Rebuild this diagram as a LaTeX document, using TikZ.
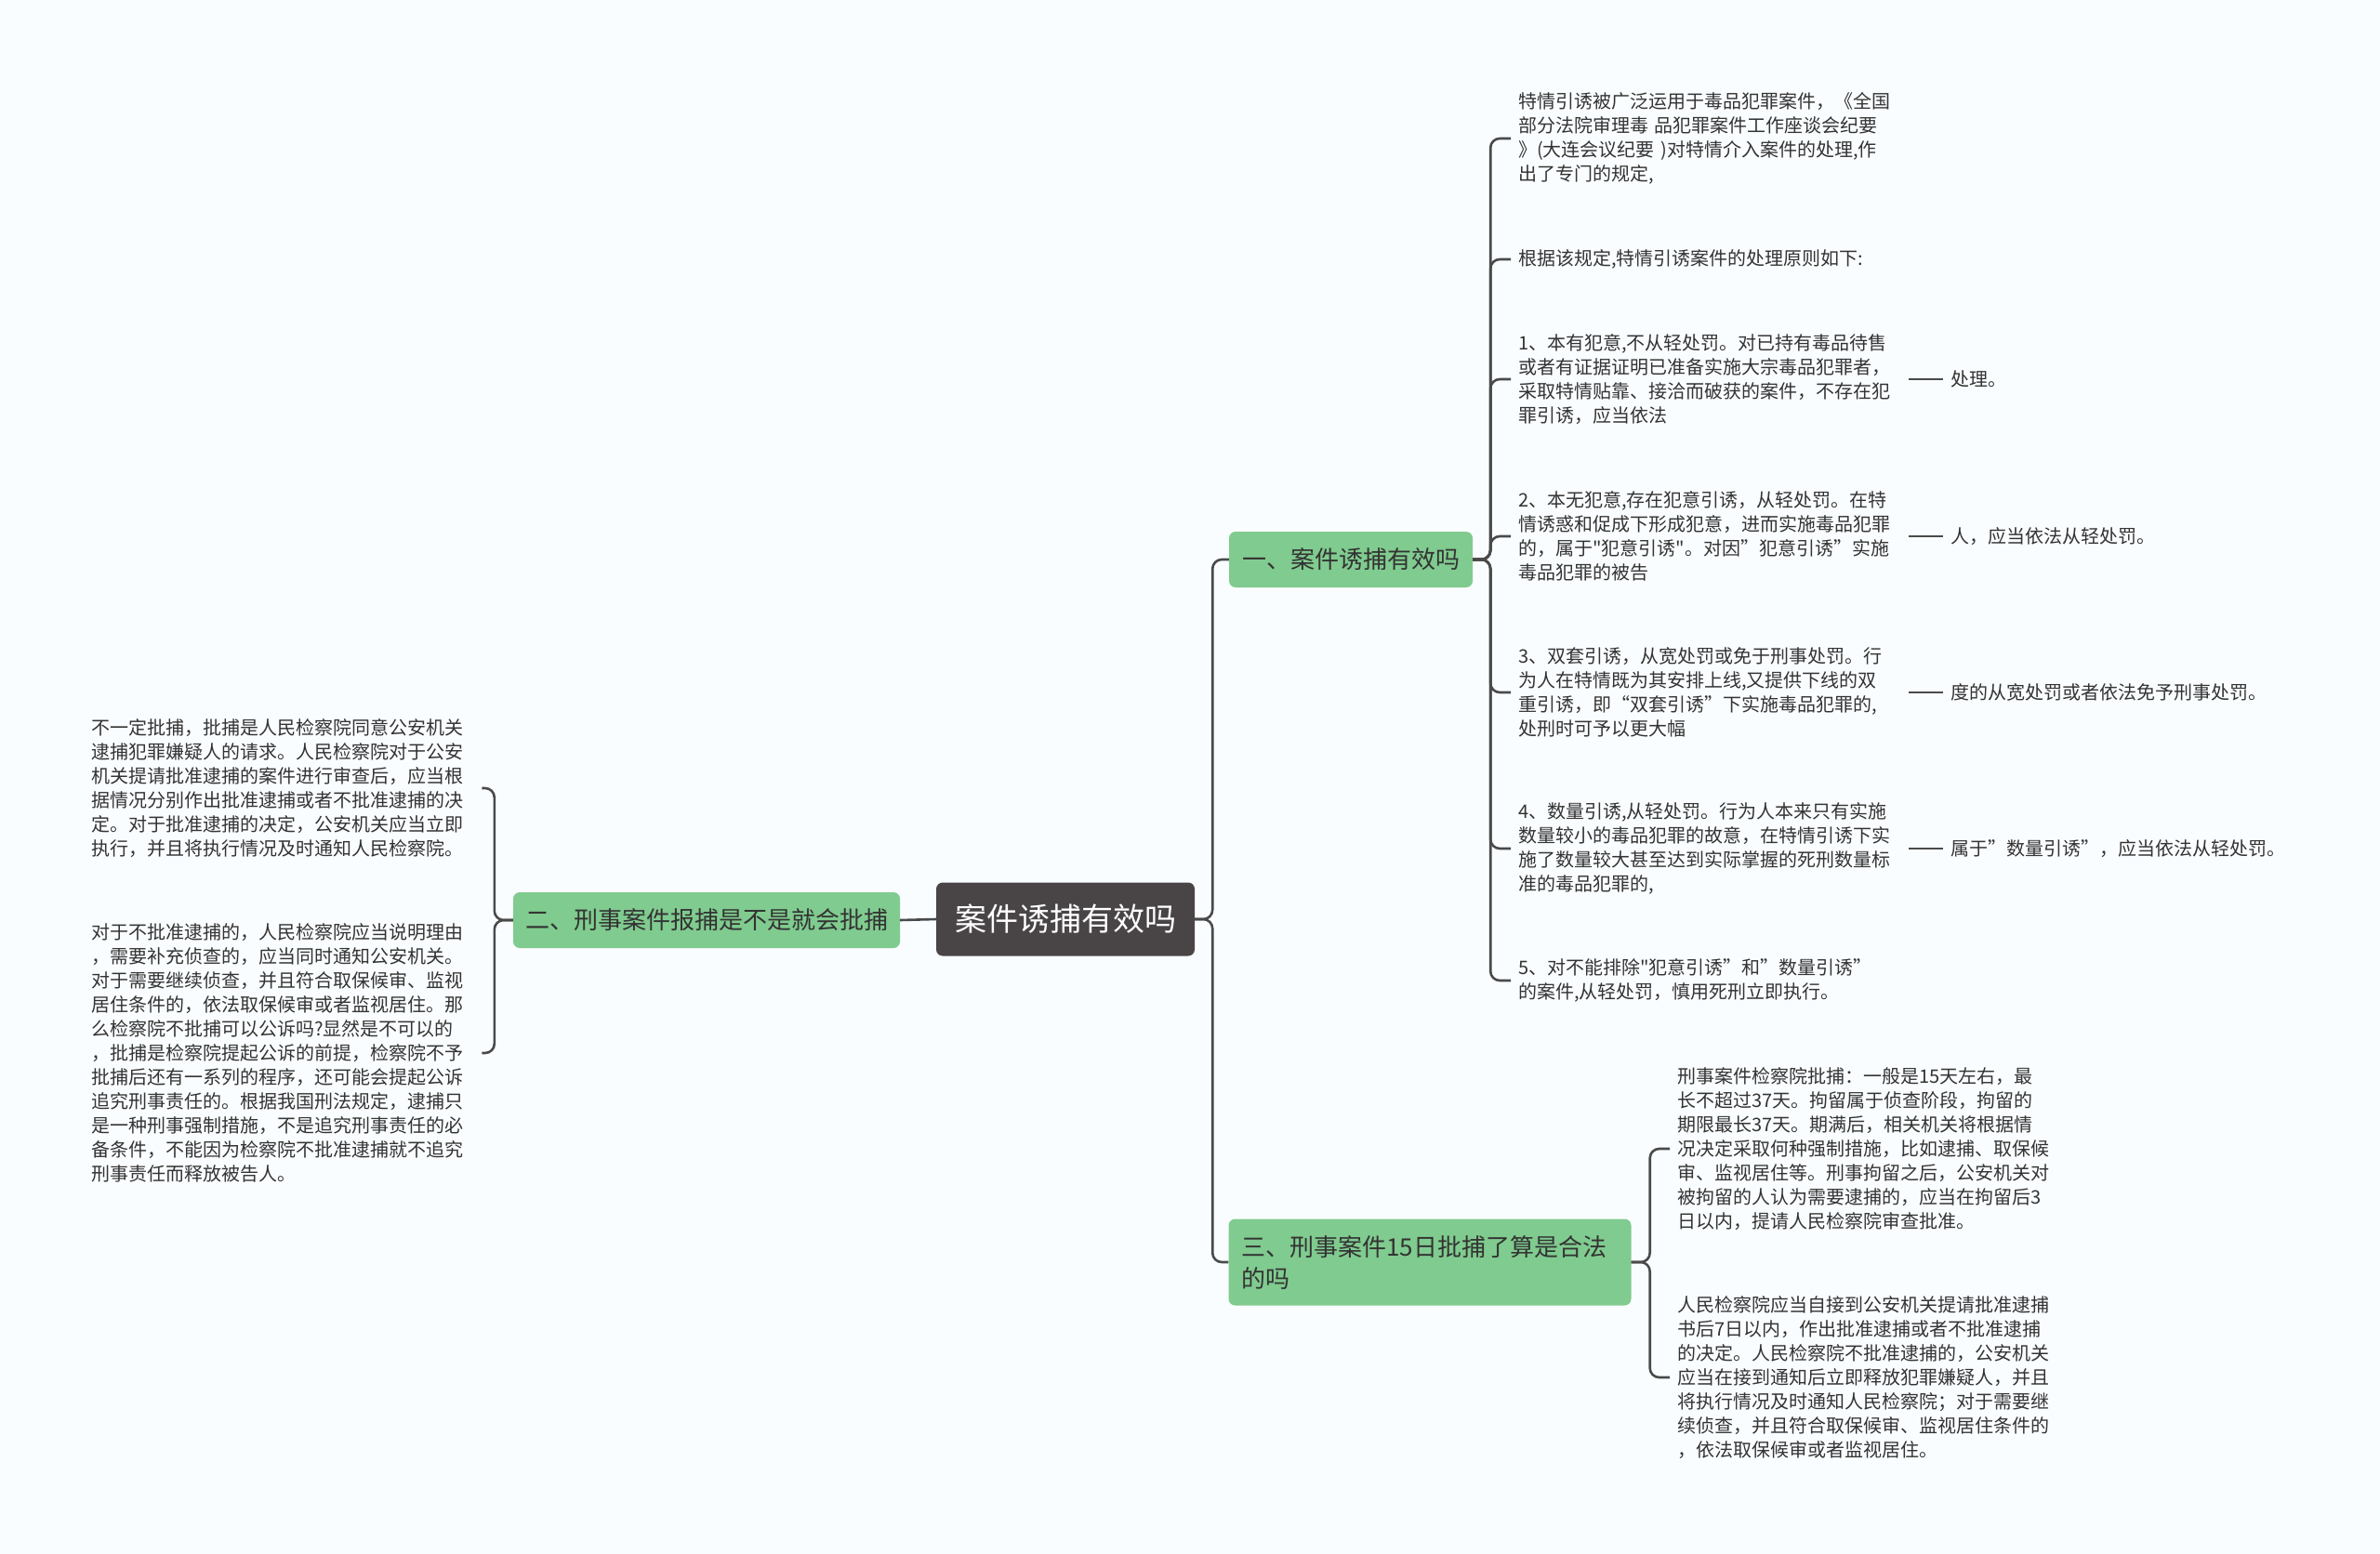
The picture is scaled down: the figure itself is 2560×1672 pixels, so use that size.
\documentclass[tikz,border=0pt]{standalone}
\usepackage{fontspec}
\setmainfont{Noto Sans CJK SC}[Ligatures=TeXOff]
\usetikzlibrary{positioning,calc}
\definecolor{bgpaper}{RGB}{250,253,255}
\definecolor{branchgreen}{RGB}{128,203,143}
\definecolor{rootgray}{RGB}{73,69,70}
\definecolor{linegray}{RGB}{74,74,74}
\definecolor{txtgray}{RGB}{51,51,51}

\begin{document}
\begin{tikzpicture}[x=1pt,y=-1pt,
    conn/.style={draw=linegray, line width=2.6pt, rounded corners=10pt},
    rootbox/.style={fill=rootgray, text=white, rounded corners=7pt, font=\fontsize{34}{40}\selectfont, minimum width=278pt, minimum height=79pt},
    branch/.style={fill=branchgreen, text=txtgray, rounded corners=7pt, font=\fontsize{26}{34}\selectfont, minimum height=60pt, inner xsep=12pt},
    detail/.style={text=txtgray, font=\fontsize{20}{26}\selectfont, align=left, text width=412pt, inner xsep=8pt, inner ysep=4pt},
    leaf/.style={text=txtgray, font=\fontsize{20}{26}\selectfont, inner xsep=8pt}]
    \useasboundingbox (0,0) rectangle (2560,1672);
    \fill[bgpaper] (0,0) rectangle (2560,1672);

    \node[rootbox] (root) at (1146,989) {案件诱捕有效吗};
    \node[branch, minimum width=262pt] (b1) at (1453,602) {一、案件诱捕有效吗};
    \node[branch, minimum width=416pt] (b2) at (760,990) {二、刑事案件报捕是不是就会批捕};
    \node[branch, minimum height=93pt, text width=405pt, align=left, inner xsep=14pt] (b3) at (1538,1358) {三、刑事案件15日批捕了算是合法\\的吗};

    \node[detail, anchor=west] (c1) at (1625,149) {特情引诱被广泛运用于毒品犯罪案件，《全国\\部分法院审理毒 品犯罪案件工作座谈会纪要\\》(大连会议纪要 )对特情介入案件的处理,作\\出了专门的规定,};
    \node[detail, anchor=west] (c2) at (1625,279) {根据该规定,特情引诱案件的处理原则如下:};
    \node[detail, anchor=west] (c3) at (1625,408) {1、本有犯意,不从轻处罚。对已持有毒品待售\\或者有证据证明已准备实施大宗毒品犯罪者，\\采取特情贴靠、接洽而破获的案件，不存在犯\\罪引诱，应当依法};
    \node[detail, anchor=west] (c4) at (1625,577) {2、本无犯意,存在犯意引诱，从轻处罚。在特\\情诱惑和促成下形成犯意，进而实施毒品犯罪\\的，属于"犯意引诱"。对因”犯意引诱”实施\\毒品犯罪的被告};
    \node[detail, anchor=west] (c5) at (1625,745) {3、双套引诱，从宽处罚或免于刑事处罚。行\\为人在特情既为其安排上线,又提供下线的双\\重引诱，即“双套引诱”下实施毒品犯罪的,\\处刑时可予以更大幅};
    \node[detail, anchor=west] (c6) at (1625,913) {4、数量引诱,从轻处罚。行为人本来只有实施\\数量较小的毒品犯罪的故意，在特情引诱下实\\施了数量较大甚至达到实际掌握的死刑数量标\\准的毒品犯罪的,};
    \node[detail, anchor=west] (c7) at (1625,1055) {5、对不能排除"犯意引诱”和”数量引诱”\\的案件,从轻处罚，慎用死刑立即执行。};

    \node[leaf, anchor=west] (l3) at (2090,408) {处理。};
    \node[leaf, anchor=west] (l4) at (2090,577) {人，应当依法从轻处罚。};
    \node[leaf, anchor=west] (l5) at (2090,745) {度的从宽处罚或者依法免予刑事处罚。};
    \node[leaf, anchor=west] (l6) at (2090,913) {属于”数量引诱”，应当依法从轻处罚。};

    \node[detail, anchor=west] (d1) at (90,848) {不一定批捕，批捕是人民检察院同意公安机关\\逮捕犯罪嫌疑人的请求。人民检察院对于公安\\机关提请批准逮捕的案件进行审查后，应当根\\据情况分别作出批准逮捕或者不批准逮捕的决\\定。对于批准逮捕的决定，公安机关应当立即\\执行，并且将执行情况及时通知人民检察院。};
    \node[detail, anchor=west] (d2) at (90,1133) {对于不批准逮捕的，人民检察院应当说明理由\\，需要补充侦查的，应当同时通知公安机关。\\对于需要继续侦查，并且符合取保候审、监视\\居住条件的，依法取保候审或者监视居住。那\\么检察院不批捕可以公诉吗?显然是不可以的\\，批捕是检察院提起公诉的前提，检察院不予\\批捕后还有一系列的程序，还可能会提起公诉\\追究刑事责任的。根据我国刑法规定，逮捕只\\是一种刑事强制措施，不是追究刑事责任的必\\备条件，不能因为检察院不批准逮捕就不追究\\刑事责任而释放被告人。};

    \node[detail, anchor=west] (e1) at (1796,1236) {刑事案件检察院批捕：一般是15天左右，最\\长不超过37天。拘留属于侦查阶段，拘留的\\期限最长37天。期满后，相关机关将根据情\\况决定采取何种强制措施，比如逮捕、取保候\\审、监视居住等。刑事拘留之后，公安机关对\\被拘留的人认为需要逮捕的，应当在拘留后3\\日以内，提请人民检察院审查批准。};
    \node[detail, anchor=west] (e2) at (1796,1482) {人民检察院应当自接到公安机关提请批准逮捕\\书后7日以内，作出批准逮捕或者不批准逮捕\\的决定。人民检察院不批准逮捕的，公安机关\\应当在接到通知后立即释放犯罪嫌疑人，并且\\将执行情况及时通知人民检察院；对于需要继\\续侦查，并且符合取保候审、监视居住条件的\\，依法取保候审或者监视居住。};

    \draw[conn] (root.east) -- ++(19,0) |- (b1.west);
    \draw[conn] (root.east) -- ++(19,0) |- (b3.west);
    \draw[conn] (root.west) -- (b2.east);
    \foreach \c in {c1,c2,c3,c4,c5,c6,c7}
        \draw[conn] (b1.east) -- ++(19,0) |- (\c.west);
    \foreach \c/\l in {c3/l3,c4/l4,c5/l5,c6/l6}
        \draw[conn] (\c.east) -- (\l.west);
    \foreach \c in {d1,d2}
        \draw[conn] (b2.west) -- ++(-20,0) |- (\c.east);
    \foreach \c in {e1,e2}
        \draw[conn] (b3.east) -- ++(20,0) |- (\c.west);
\end{tikzpicture}
\end{document}
